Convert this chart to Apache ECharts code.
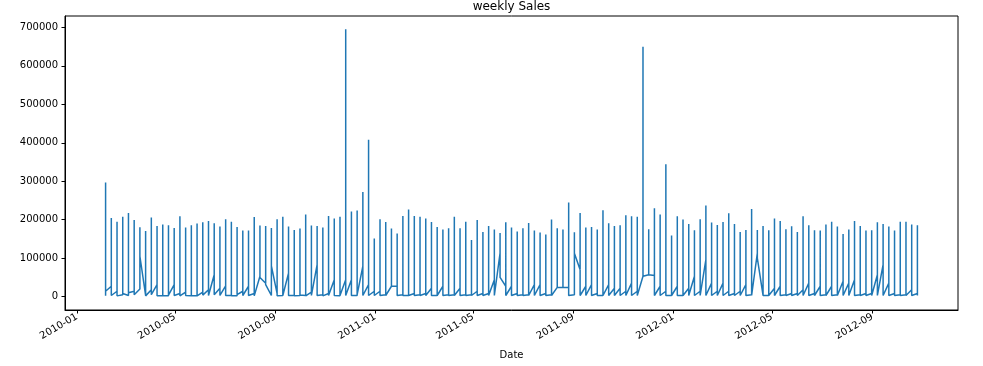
<!DOCTYPE html>
<html><head><meta charset="utf-8">
<script src="https://cdn.jsdelivr.net/npm/echarts@6/dist/echarts.min.js"></script>
<style>html,body{margin:0;padding:0;background:#fff}#c{width:983px;height:366px}</style>
</head><body><div id="c"></div>
<script>
const firstWeek = '2010-02-05';
const weekCount = 143;
const peakSales = [297000,204600,195000,208000,217600,199400,180300,170800,205500,183800,187300,185500,178600,209000,179500,185500,189900,193300,196800,190700,182100,201100,195000,181200,171700,171700,207200,184700,183800,
178600,201100,208000,182100,173400,176900,213300,184700,183800,179500,209800,202900,208000,695000,221100,223700,272200,408000,150900,201100,194200,176900,163900,209800,226300,209800,208000,202900,194200,
181200,174300,177700,208000,177700,195000,147400,199400,168200,183800,174300,165600,193300,179500,169100,177700,191600,171700,166500,161300,200300,177700,174300,244500,167300,217600,179500,181200,174300,
224600,190700,183800,185500,211500,209000,208000,650000,175100,229800,213300,344200,158700,209000,200300,189000,172500,201100,236700,192500,186400,194200,216800,189000,168200,173400,228000,173400,183800,
172500,202900,196800,175100,182900,168200,209000,185500,172500,171700,187300,195000,182100,163000,174300,196800,183800,171700,172500,193300,189000,182100,171700,195000,195000,187300,185500];
const lowIn = [2000,27000,14000,5000,3000,14000,20000,3000,18000,31000,3000,2000,31000,8000,12000,2000,3000,12000,18000,57000,22000,28000,3000,2000,14000,27000,8000,53000,35000,
3000,8000,3000,61000,3000,3000,3000,12000,83000,5000,8000,44000,2000,44000,44000,3000,79000,31000,14000,14000,5000,27000,27000,5000,3000,8000,5000,8000,22000,
3000,27000,5000,5000,22000,5000,5000,14000,8000,8000,44000,113000,27000,27000,8000,5000,5000,31000,31000,8000,5000,24000,24000,24000,5000,70000,27000,31000,8000,
3000,31000,22000,22000,14000,35000,14000,53000,57000,55000,27000,14000,3000,27000,3000,22000,53000,14000,96000,35000,14000,35000,14000,8000,14000,31000,5000,113000,3000,
3000,22000,27000,5000,8000,8000,18000,35000,8000,27000,5000,27000,5000,40000,35000,44000,5000,8000,8000,57000,83000,35000,8000,5000,5000,18000,8000];
const lowOut = [14000,3000,2000,8000,10000,5000,105000,2000,5000,2000,2000,4000,3000,2000,3000,2000,2000,4000,3000,5000,3000,3000,2000,5000,3000,3000,2000,50000,31000,
80000,2000,3000,3000,2000,4000,2000,3000,3000,2000,3000,3000,3000,3000,3000,5000,3000,3000,3000,3000,3000,27000,3000,3000,3000,3000,3000,3000,3000,
3000,3000,3000,3000,3000,3000,3000,3000,3000,3000,3000,50000,3000,3000,3000,3000,3000,3000,3000,3000,3000,24000,24000,3000,113000,3000,3000,3000,3000,
3000,3000,3000,3000,3000,3000,3000,53000,57000,3000,3000,3000,3000,3000,3000,3000,3000,3000,3000,3000,3000,3000,3000,3000,3000,3000,3000,100000,3000,
3000,3000,3000,3000,3000,3000,3000,3000,3000,3000,3000,3000,3000,3000,3000,3000,3000,3000,3000,3000,3000,3000,3000,3000,3000,3000,3000];
const xTickLabels = ['2010-01','2010-05','2010-09','2011-01','2011-05','2011-09','2012-01','2012-05','2012-09'];
const yTickValues = [0,100000,200000,300000,400000,500000,600000,700000];

const DAY = 86400000;
const t0 = Date.parse(firstWeek + 'T00:00:00Z');
const dates = [];
for (let i = 0; i < weekCount; i++) dates.push(t0 + i * 7 * DAY);
const data = [];
for (let i = 0; i < weekCount; i++) {
  data.push([dates[i], lowIn[i]], [dates[i], peakSales[i]], [dates[i], lowOut[i]]);
}
const span = dates[dates.length - 1] - dates[0];
const xMin = dates[0] - span * 0.05, xMax = dates[dates.length - 1] + span * 0.05;
const yMax0 = Math.max(...peakSales), yMin0 = 0;
const yMin = yMin0 - (yMax0 - yMin0) * 0.05, yMax = yMax0 + (yMax0 - yMin0) * 0.05;
const xTicks = xTickLabels.map(s => Date.parse(s + '-01T00:00:00Z'));
const fmt = v => { const d = new Date(v); return d.getUTCFullYear() + '-' + String(d.getUTCMonth() + 1).padStart(2, '0'); };

const chart = echarts.init(document.getElementById('c'), null, {renderer: 'canvas'});
chart.setOption({
  animation: false,
  backgroundColor: '#fff',
  textStyle: {fontFamily: 'DejaVu Sans'},
  title: {text: 'weekly Sales', left: 511.5, top: 1, textAlign: 'center', padding: 0,
    textStyle: {fontFamily: 'DejaVu Sans', fontSize: 12, fontWeight: 'normal', color: '#000'}},
  grid: {left: 65, right: 25, top: 16, bottom: 56, show: true, borderColor: '#000', borderWidth: 1, backgroundColor: 'transparent', containLabel: false},
  xAxis: {
    type: 'value', min: xMin, max: xMax,
    name: 'Date', nameLocation: 'middle', nameGap: 40,
    nameTextStyle: {fontFamily: 'DejaVu Sans', fontSize: 10, color: '#000'},
    axisLine: {show: true, onZero: false, lineStyle: {color: '#000', width: 1}},
    axisTick: {show: true, length: 3.5, lineStyle: {color: '#000'}, customValues: xTicks},
    axisLabel: {customValues: xTicks, formatter: fmt, rotate: 30, margin: 6, fontFamily: 'DejaVu Sans', fontSize: 10, color: '#000'},
    splitLine: {show: false}
  },
  yAxis: {
    type: 'value', min: yMin, max: yMax,
    axisLine: {show: true, onZero: false, lineStyle: {color: '#000', width: 1}},
    axisTick: {show: true, length: 3.5, lineStyle: {color: '#000'}, customValues: yTickValues},
    axisLabel: {customValues: yTickValues, margin: 7, fontFamily: 'DejaVu Sans', fontSize: 10, color: '#000', formatter: v => String(v)},
    splitLine: {show: false}
  },
  series: [{
    type: 'line', data: data, showSymbol: false, symbol: 'none',
    lineStyle: {color: '#1f77b4', width: 1.5}, itemStyle: {color: '#1f77b4'}
  }]
});
</script></body></html>
